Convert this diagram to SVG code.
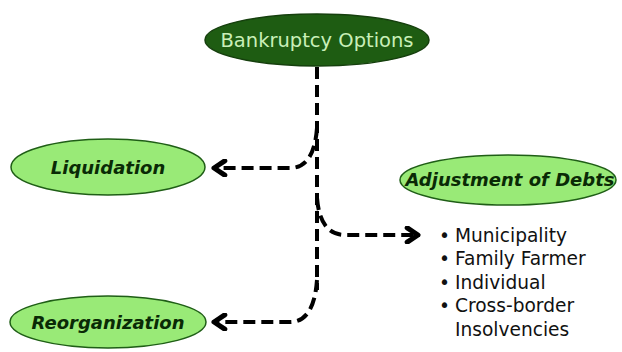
<svg xmlns="http://www.w3.org/2000/svg" width="622" height="352" viewBox="0 0 622 352">
<style>
.opt{fill:#99ea77;stroke:#1f5e16;stroke-width:1.5}
.lbl{font-family:"DejaVu Sans",sans-serif;font-style:italic;font-weight:bold;font-size:18px;fill:#0a2a06;text-anchor:middle}
.conn{fill:none;stroke:#000;stroke-width:4;stroke-dasharray:12 6}
.bul{font-family:"DejaVu Sans",sans-serif;font-size:18.6px;fill:#111}
</style>
<defs>
<marker id="chev" viewBox="0 0 10 10" refX="8" refY="5" markerWidth="4.5" markerHeight="4.5" orient="auto" markerUnits="strokeWidth">
<polyline points="2,1 8,5 2,9" fill="none" stroke="#000" stroke-width="2.8" stroke-linecap="round" stroke-linejoin="round"/>
</marker>
</defs>
<rect width="622" height="352" fill="#fff"/>
<g id="connectors">
<path class="conn" d="M317,67 L317,290"/>
<path class="conn" d="M317,128 Q314,168 290,168 L214,168" marker-end="url(#chev)"/>
<path class="conn" d="M317,198 Q320,235 345,235 L418,235" marker-end="url(#chev)"/>
<path class="conn" d="M317,280 Q314,322 290,322 L214,322" marker-end="url(#chev)"/>
</g>
<g id="bankruptcy-options">
<ellipse cx="317" cy="40" rx="112" ry="26" fill="#1e5c12" stroke="#153f0d" stroke-width="1.5"/>
<text x="317" y="47" font-family="DejaVu Sans,sans-serif" font-size="19.5" fill="#c9efb8" text-anchor="middle">Bankruptcy Options</text>
</g>
<g id="liquidation">
<ellipse class="opt" cx="108" cy="167" rx="97" ry="28"/>
<text class="lbl" x="108" y="174">Liquidation</text>
</g>
<g id="adjustment-of-debts">
<ellipse class="opt" cx="508" cy="180" rx="108" ry="25"/>
<text class="lbl" x="510" y="186" font-size="17">Adjustment of Debts</text>
</g>
<g id="reorganization">
<ellipse class="opt" cx="108" cy="322" rx="98" ry="26"/>
<text class="lbl" x="108" y="329">Reorganization</text>
</g>
<g id="types">
<text class="bul" x="439" y="242">•</text><text class="bul" x="455" y="242">Municipality</text>
<text class="bul" x="439" y="265">•</text><text class="bul" x="455" y="265">Family Farmer</text>
<text class="bul" x="439" y="289">•</text><text class="bul" x="455" y="289">Individual</text>
<text class="bul" x="439" y="312">•</text><text class="bul" x="455" y="312">Cross-border</text>
<text class="bul" x="455" y="336">Insolvencies</text>
</g>
</svg>
